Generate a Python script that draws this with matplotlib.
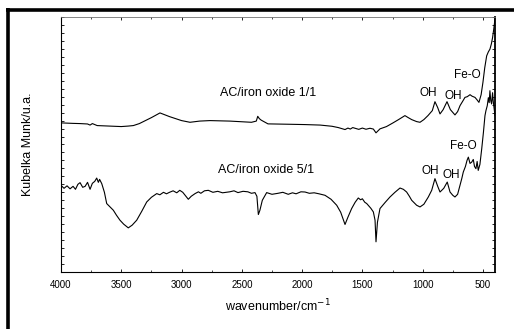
import matplotlib
matplotlib.use("Agg")
import matplotlib.pyplot as plt
from matplotlib.lines import Line2D
from matplotlib.ticker import MultipleLocator, NullFormatter

plt.rcParams['font.family'] = ['Liberation Sans', 'DejaVu Sans']

# AC/iron oxide 1/1 spectrum (wavenumber, Kubelka-Munk a.u.)
wn_11 = [4000, 3900, 3842, 3780, 3759, 3740, 3700, 3600, 3500, 3442, 3400, 3350,
         3250, 3179, 3100, 3000, 2930, 2850, 2764, 2600, 2420, 2380, 2368, 2355,
         2340, 2283, 2100, 1976, 1850, 1752, 1700, 1644, 1620, 1600, 1580, 1561, 1530,
         1500, 1470, 1437, 1409, 1387, 1354, 1300, 1246, 1200, 1147, 1120, 1091, 1050,
         1022, 990, 956, 920, 898, 875, 856, 830, 798, 770, 732, 710, 690, 665, 649,
         630, 607, 590, 566, 550, 533, 515, 500, 485, 469, 455, 442, 430, 420, 410, 400]
km_11 = [149.7, 149.2, 149.0, 148.6, 147.5, 149.0, 147.0, 146.5, 146.0, 146.5, 147.0, 149.0,
         155.0, 159.7, 156.0, 152.0, 150.3, 151.5, 152.0, 151.5, 150.3, 151.5, 156.3, 154.0,
         152.5, 148.7, 148.3, 148.0, 147.5, 146.3, 145.0, 143.0, 144.5, 143.5, 145.0, 144.3, 143.2,
         144.5, 143.3, 144.3, 143.5, 139.7, 143.7, 146.0, 149.7, 153.0, 157.0, 155.0, 153.0, 151.0,
         150.3, 153.0, 157.0, 162.0, 171.0, 165.0, 158.7, 163.0, 171.0, 163.0, 157.7, 161.0, 167.0,
         172.0, 175.3, 176.0, 178.0, 176.5, 175.3, 173.0, 170.3, 178.0, 190.3, 205.0, 217.0, 221.0,
         223.7, 229.0, 235.3, 244.0, 254.0]

# AC/iron oxide 5/1 spectrum
wn_51 = [4000, 3975, 3950, 3925, 3900, 3880, 3860, 3842, 3820, 3800, 3780, 3759,
         3740, 3720, 3704, 3690, 3680, 3662, 3640, 3621, 3590, 3566, 3540, 3511,
         3480, 3442, 3410, 3372, 3330, 3289, 3250, 3206, 3180, 3150, 3125, 3100, 3070,
         3040, 3015, 2990, 2944, 2920, 2888, 2860, 2840, 2810, 2778, 2740, 2700, 2660,
         2600, 2565, 2532, 2490, 2450, 2420, 2391, 2375, 2363, 2350, 2330, 2294, 2250,
         2200, 2160, 2115, 2080, 2050, 2010, 1976, 1940, 1900, 1860, 1810, 1760, 1713,
         1680, 1644, 1620, 1589, 1560, 1534, 1515, 1500, 1480, 1464, 1430, 1409, 1395,
         1387, 1375, 1354, 1310, 1271, 1230, 1188, 1160, 1133, 1110, 1091, 1050, 1022,
         990, 953, 925, 898, 875, 856, 825, 796, 773, 750, 732, 710, 690, 675, 663,
         645, 632, 621, 607, 593, 580, 570, 558, 548, 539, 525, 510, 496, 483,
         475, 464, 455, 448, 442, 435, 428, 420, 415, 408, 400]
km_51 = [87.0, 84.0, 86.5, 83.5, 86.0, 83.0, 88.0, 89.7, 85.0, 86.0, 90.0, 83.0,
         89.0, 91.0, 94.3, 90.0, 93.0, 88.7, 80.0, 68.7, 65.0, 62.0, 57.0, 52.0,
         48.0, 44.3, 47.0, 52.0, 61.0, 70.3, 75.0, 78.7, 77.5, 80.0, 78.5, 80.0, 81.5,
         79.5, 82.0, 80.0, 73.0, 76.0, 78.7, 80.5, 79.0, 81.5, 82.0, 80.0, 81.0, 79.5,
         80.5, 81.5, 79.7, 81.0, 80.5, 79.0, 79.7, 76.0, 57.7, 62.0, 72.0, 79.7, 78.0,
         79.0, 80.0, 78.0, 79.5, 78.5, 80.5, 80.3, 79.0, 79.5, 78.5, 77.0, 73.0, 67.0,
         60.0, 47.7, 55.0, 63.7, 70.0, 74.3, 72.5, 73.5, 70.0, 68.7, 64.0, 60.3, 52.0,
         30.3, 50.0, 63.7, 70.0, 75.3, 80.0, 84.3, 83.0, 80.3, 76.0, 72.0, 67.0, 65.3,
         68.0, 75.3, 82.0, 93.7, 86.0, 80.3, 84.0, 90.3, 80.3, 77.0, 75.3, 78.0, 87.0,
         94.0, 100.3, 106.0, 112.0, 115.3, 109.0, 110.3, 113.0, 106.0, 103.7, 111.0, 102.0,
         108.0, 123.7, 140.0, 157.0, 162.0, 167.0, 175.0, 170.0, 182.0, 172.0, 168.7, 180.0,
         172.0, 165.0, 157.0]

labels = ["AC/iron oxide 1/1", "AC/iron oxide 5/1"]

fig = plt.figure(figsize=(5.14, 3.29), dpi=100)
ax = fig.add_axes([0.1187, 0.1733, 0.963 - 0.1187, 0.9483 - 0.1733])

ax.plot(wn_11, km_11, color='black', lw=0.8)
ax.plot(wn_51, km_51, color='black', lw=0.8)

ax.set_xlim(4000, 400)
ax.set_ylim(0, 256)

# peak labels
ax.text(2283, 180, labels[0], fontsize=9, ha='center', va='center')
ax.text(2295, 102, labels[1], fontsize=9, ha='center', va='center')
ax.text(952, 179.5, "OH", fontsize=8.5, ha='center', va='center')
ax.text(748, 177, "OH", fontsize=8.5, ha='center', va='center')
ax.text(632, 198, "Fe-O", fontsize=8.5, ha='center', va='center')
ax.text(939, 101, "OH", fontsize=8.5, ha='center', va='center')
ax.text(765, 97, "OH", fontsize=8.5, ha='center', va='center')
ax.text(665, 126, "Fe-O", fontsize=8.5, ha='center', va='center')

ax.xaxis.set_major_locator(MultipleLocator(500))
ax.xaxis.set_minor_locator(MultipleLocator(250))
ax.yaxis.set_major_locator(MultipleLocator(8))
ax.yaxis.set_major_formatter(NullFormatter())
ax.tick_params(axis='x', which='both', direction='in', top=True, labelsize=7, pad=6)
ax.tick_params(axis='x', which='major', length=2, width=0.6)
ax.tick_params(axis='x', which='minor', length=1.5, width=0.5)
ax.tick_params(axis='y', which='both', direction='in', right=True, length=2, width=0.6)

ax.spines['top'].set_color('0.45')
ax.spines['top'].set_linewidth(0.6)
ax.spines['right'].set_linewidth(1.3)
ax.spines['left'].set_linewidth(0.8)
ax.spines['bottom'].set_linewidth(0.8)

ax.set_xlabel("wavenumber/cm$^{-1}$", fontsize=9, labelpad=5)
ax.set_ylabel("Kubelka Munk/u.a.", fontsize=9, labelpad=16)

# heavy frame along top and left of the figure
fig.add_artist(Line2D([0.0117, 1.0], [0.9711, 0.9711], color='black', lw=2.6,
                      transform=fig.transFigure, solid_capstyle='butt'))
fig.add_artist(Line2D([0.0156, 0.0156], [0.0, 0.9757], color='black', lw=2.6,
                      transform=fig.transFigure, solid_capstyle='butt'))

plt.savefig("out.png", dpi=100)
